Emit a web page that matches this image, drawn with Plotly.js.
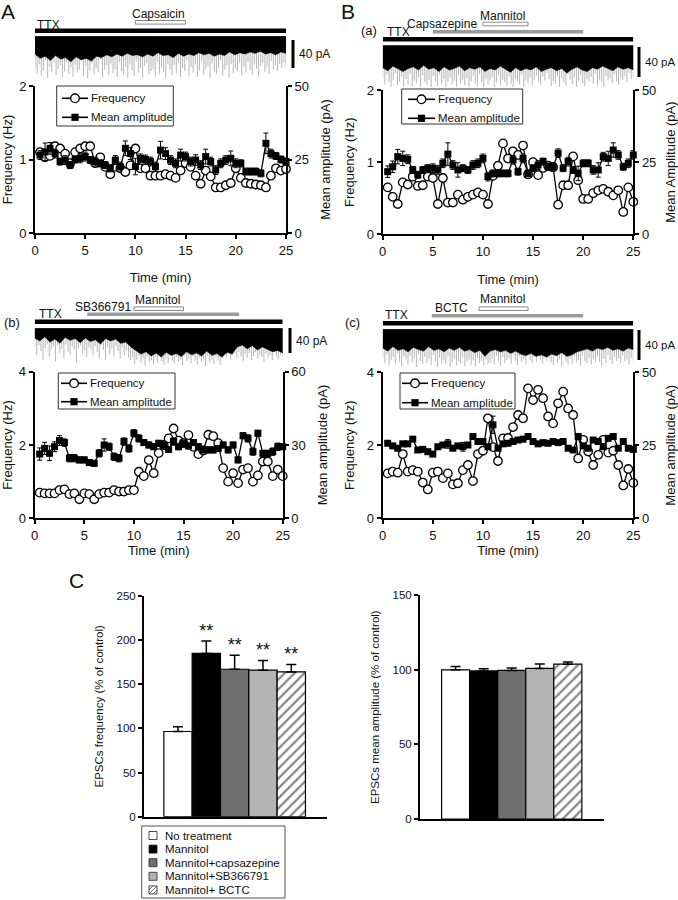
<!DOCTYPE html>
<html><head><meta charset="utf-8">
<script src="https://cdn.plot.ly/plotly-3.0.1.min.js"></script>
<style>html,body{margin:0;padding:0;background:#fff}#chart{width:678px;height:900px}</style>
</head><body><div id="chart"></div>
<script>
// ---------------- DATA ----------------
const time = [0.5,1,1.5,2,2.5,3,3.5,4,4.5,5,5.5,6,6.5,7,7.5,8,8.5,9,9.5,10,10.5,11,11.5,12,12.5,13,13.5,14,14.5,15,15.5,16,16.5,17,17.5,18,18.5,19,19.5,20,20.5,21,21.5,22,22.5,23,23.5,24,24.5,25];
const legendLabels = ['Frequency','Mean amplitude'];

// Panel A (capsaicin)
const freqA = [1.10,1.03,1.05,1.18,1.15,1.08,0.95,1.10,1.15,1.18,1.18,0.95,1.03,0.90,0.80,0.90,0.88,0.83,0.92,1.15,0.88,0.88,0.78,0.78,0.78,0.80,0.78,0.75,0.85,0.95,0.90,0.78,0.67,0.85,0.77,0.62,0.62,0.65,0.68,0.88,0.75,0.68,0.67,0.66,0.65,0.62,0.78,0.88,0.85,0.87];
const ampA = [26.5,27.6,28.8,27.0,24.3,24.8,23.1,25.0,25.4,26.0,24.8,24.3,23.7,23.1,22.0,24.8,22.6,28.8,27.0,22.6,25.4,25.0,24.3,22.6,28.2,27.0,24.8,23.7,26.5,26.0,24.3,24.8,23.1,26.0,24.3,21.4,23.7,24.8,25.4,23.7,23.7,20.9,20.9,20.9,20.3,30.5,27.0,26.2,25.0,24.3];
const ampErrA = [1.5,3.0,2.0,1.5,1.2,1.5,1.2,1.2,1.5,1.5,1.2,1.5,1.2,1.2,1.2,1.5,1.5,2.5,2.0,2.8,1.5,1.5,1.5,1.5,3.0,2.0,1.5,1.5,2.0,1.5,1.5,1.8,1.5,2.5,1.5,1.5,1.5,1.5,2.5,1.5,1.2,1.2,1.2,1.2,1.2,3.5,1.5,1.2,1.2,1.2];
const drugNamesA = ['TTX','Capsaicin'];
const drugStartA = [0,10];
const drugEndA = [25,15];

// Panel B(a) (capsazepine + mannitol)
const freqBa = [0.65,0.52,0.42,0.72,0.69,0.80,0.67,0.68,0.80,0.78,0.42,0.78,0.44,0.44,0.55,0.48,0.52,0.55,0.58,0.55,0.42,0.81,0.95,1.26,1.05,1.15,1.10,1.23,0.83,1.00,0.82,0.92,0.95,0.93,0.41,0.68,0.68,1.08,0.75,0.49,0.49,0.57,0.61,0.63,0.59,0.54,0.61,0.31,0.65,0.45];
const ampBa = [21.7,23.4,26.9,26.3,26.0,22.3,20.6,22.3,22.9,22.9,22.3,24.6,27.8,24.0,22.3,22.9,22.3,24.0,24.6,26.3,20.0,21.1,21.1,21.1,21.1,25.8,21.7,26.3,21.1,22.9,24.0,25.2,23.4,23.4,28.1,22.9,25.2,22.3,21.1,24.6,24.6,22.3,22.3,26.9,26.3,29.2,27.5,23.4,24.6,27.5];
const ampErrBa = [2.0,2.0,2.5,2.5,1.5,1.2,1.2,1.2,1.2,1.5,1.5,1.5,3.9,1.5,2.5,1.2,1.2,1.5,1.5,1.5,1.5,1.2,1.2,1.2,1.2,1.5,1.2,1.5,1.2,1.2,1.5,1.2,1.2,1.5,1.5,1.2,1.5,1.2,2.5,1.2,1.2,1.5,2.5,1.5,2.5,2.5,1.5,1.2,1.5,1.5];
const drugNamesBa = ['TTX','Capsazepine','Mannitol'];
const drugStartBa = [0,5,10];
const drugEndBa = [25,20,14.5];

// Panel B(b) (SB366791 + mannitol)
const freqBb = [0.70,0.68,0.68,0.68,0.77,0.79,0.66,0.68,0.52,0.68,0.66,0.52,0.66,0.70,0.70,0.77,0.73,0.73,0.77,0.77,1.27,1.15,1.59,1.23,1.78,2.00,2.18,2.45,2.12,2.05,2.27,1.95,1.75,1.85,2.28,2.24,2.05,1.37,1.00,1.23,0.96,1.33,1.37,1.00,1.17,1.55,1.55,1.15,1.33,1.15];
const ampBb = [26.3,28.6,26.6,29.3,31.8,31.0,24.6,24.6,23.9,23.9,22.8,22.5,26.6,30.0,29.3,25.2,24.6,31.4,28.6,34.8,32.7,31.0,30.0,29.3,30.7,30.0,28.2,31.4,29.3,30.7,29.6,31.0,29.3,28.0,28.0,28.0,28.6,30.0,28.0,30.0,23.9,33.8,32.7,27.3,34.8,26.6,26.6,27.3,29.3,29.3];
const ampErrBb = [2.5,2.5,3.0,2.0,2.0,1.5,1.5,1.5,1.2,1.2,1.2,1.2,1.5,2.5,1.5,1.5,1.5,1.5,1.5,1.5,1.5,1.2,1.2,1.2,1.2,1.2,1.2,1.5,1.2,1.2,1.2,1.2,1.2,1.2,1.2,1.2,1.2,1.2,1.2,1.2,1.2,1.2,1.5,1.5,1.2,1.2,1.2,1.5,1.5,1.2];
const drugNamesBb = ['TTX','SB366791','Mannitol'];
const drugStartBb = [0,5.3,10];
const drugEndBb = [25,20.6,15];

// Panel B(c) (BCTC + mannitol)
const freqBc = [1.23,1.28,1.25,1.76,1.28,1.32,1.28,0.98,0.79,1.25,1.28,1.10,1.23,0.93,0.96,1.32,1.46,1.02,1.76,1.85,2.74,1.95,1.57,2.19,2.20,2.50,2.83,2.74,3.56,3.24,3.52,3.29,2.79,2.60,3.15,3.47,3.01,2.83,1.64,2.15,1.83,1.46,1.74,2.15,1.80,1.85,1.46,0.90,1.35,0.97];
const ampBc = [25.7,24.8,24.0,25.5,25.5,27.1,23.4,23.6,22.8,22.0,24.5,25.1,25.5,24.0,24.8,24.5,25.1,28.0,26.3,26.3,24.5,32.0,24.0,25.5,25.7,26.3,26.8,27.1,28.0,26.3,25.5,25.9,25.7,26.3,25.9,26.3,24.0,23.4,28.0,24.8,24.0,26.8,26.3,24.5,27.4,28.0,24.0,26.3,24.0,23.6];
const ampErrBc = [0.8,0.8,0.8,0.8,0.8,0.8,0.8,0.8,0.8,0.8,0.8,0.8,1.5,0.8,0.8,1.5,0.8,0.8,0.8,0.8,0.8,3.0,0.8,0.8,0.8,0.8,0.8,0.8,0.8,0.8,0.8,0.8,0.8,0.8,0.8,0.8,0.8,0.8,0.8,0.8,0.8,0.8,0.8,0.8,0.8,0.8,0.8,0.8,0.8,0.8];
const drugNamesBc = ['TTX','BCTC','Mannitol'];
const drugStartBc = [0,4.9,9.6];
const drugEndBc = [25,20,14.5];

// Raw current recordings (pA below baseline): dense-band lower edge and event depths
const recEnvA = [24,30,27,33,26,31,29,35,28,32,30,34,27,29,25,28,24,27,23,26,25,28,24,27,22,26,25,29,23,27,24,26,22,25,23,27,24,26,21,25,22,24,21,23,20,24,22,25,21,23];
const recSpikeA = [44,51,38,55,47,33,58,42,49,36,54,45,40,57,48,35,52,43,56,39,50,46,34,55,41,58,47,37,53,44,49,32,57,46,40,54,38,51,45,56,36,48,53,42,58,39,47,55,34,50,44,57,41,37,53,48,45,56,35,52,43,49,58,38,46,54,40,51,36,57,44,48,33,55,42,50,39,56,47,35,53,45,41,58,37,49,52,43,34,55,46,40,57,38,51,44,48,36,54,42,50,35,47,53,39,45,56,41,37,49,43,52,34,46,40,48,38,44,36,42];
const recEnvBa = [28,32,26,30,33,29,27,31,25,30,28,33,27,31,29,26,32,28,30,27,33,29,31,26,30,34,28,32,29,31,27,33,30,28,32,29,35,30,27,31,33,28,30,26,29,32,27,30,28,31];
const recSpikeBa = [42,50,37,47,53,44,35,51,46,40,54,43,49,36,52,45,48,41,53,38,47,50,44,54,39,46,52,37,49,43,53,47,41,50,45,54,38,48,44,51,42,53,46,39,49,52,36,47,54,43,50,45,40,53,48,38,51,44,47,52,39,49,54,43,46,50,37,53,45,48,41,51,44,38,47,50,40,45,35,43,52,46,49,39,54,42,47,51,37,44,50,41,53,45,38,48,52,43,46,40,49,36,51,44,47,53,39,45,42,48,37,46,50,41,44,39,47,35,43,40];
const recEnvBb = [15,20,13,22,17,24,14,19,16,23,15,21,18,25,16,20,17,24,22,30,36,42,38,45,40,47,39,44,41,46,38,43,40,45,37,44,41,47,39,42,30,27,33,28,35,30,34,38,36,40];
const recSpikeBb = [30,44,27,37,51,32,26,46,34,29,54,28,40,33,49,26,38,43,30,35,57,32,28,41,36,47,31,34,44,29,38,49,27,35,52,30,42,33,46,28,37,50,31,44,36,48,52,47,58,51,44,57,49,61,46,55,52,59,48,56,43,54,60,49,57,45,53,58,47,55,51,61,44,54,49,57,46,53,59,48,55,50,62,45,56,51,58,47,53,60,49,40,47,38,51,44,41,49,38,46,54,42,48,40,52,45,39,50,43,47,55,41,48,44,52,38,46,50,42,47];
const recEnvBc = [24,28,22,27,25,29,23,26,28,22,27,25,29,24,27,23,28,26,30,27,35,28,26,29,27,31,28,32,34,31,35,33,36,32,34,30,35,33,29,27,25,28,24,26,23,27,25,28,24,26];
const recSpikeBc = [38,44,33,47,40,36,45,31,42,48,35,39,46,34,43,37,49,32,41,45,36,44,38,47,33,42,50,37,45,40,46,35,49,43,38,47,41,44,36,48,42,39,46,40,48,37,44,41,47,39,45,43,38,46,34,42,48,36,44,40,37,45,33,41,47,35,43,38,46,32,40,44,36,42,30,39,45,34,41,37,43,47,35,44,39,48,33,42,46,38,45,36,43,40,47,34,41,44,37,46,39,43,35,42,47,38,44,33,40,45,36,41,38,44,34,42,39,46,37,41];

// Panel C
const barCategories = ['No treatment','Mannitol','Mannitol+capsazepine','Mannitol+SB366791','Mannitol+ BCTC'];
const freqPct = [96.5,185,167,166,164];
const freqPctErr = [5.5,14,16,11,8.5];
const ampPct = [100,99.3,99.6,101,103.8];
const ampPctErr = [2.3,1.5,1.7,2.9,1.5];
const sigLabels = ['','**','**','**','**'];

// ---------------- LAYOUT HELPERS ----------------
const W = 678, H = 900;
const px = v => v / W, py = v => 1 - v / H;
const FONT = '"Liberation Sans", Arial, sans-serif';
const INK = '#111';
const axKey = id => id[0] + 'axis' + id.slice(1);

const baseAx = {showline:true, linecolor:'black', linewidth:2, ticks:'outside', ticklen:4, tickwidth:2,
  tickcolor:'black', showgrid:false, zeroline:false, fixedrange:true,
  tickfont:{family:FONT, size:13, color:INK}};

const panels = [
  {freq:freqA, amp:ampA, err:ampErrA, env:recEnvA, spk:recSpikeA, names:drugNamesA, st:drugStartA, en:drugEndA,
   kinds:['ttx','open'], barY:{ttx:30.7, open:22.3}, labels:[[35,25,'left'],[158,14.5,'center']],
   xd:[35,286], yd:[86,233], rec:[36,78], sb:28.3, sbX:293, sbY:[40,68], sbFont:12,
   fmax:2, fdt:1, amax:50, adt:25, ampTitle:'Mean amplitude (pA)', xStand:16,
   legBox:[56.7,86,173.3,126], legRows:[98.3,117.3], legLine:[62,88], legText:89},
  {freq:freqBa, amp:ampBa, err:ampErrBa, env:recEnvBa, spk:recSpikeBa, names:drugNamesBa, st:drugStartBa, en:drugEndBa,
   kinds:['ttx','gray','open'], barY:{ttx:39.3, gray:31.7, open:24}, labels:[[385,32.3,'left'],[478.5,24,'right'],[502.5,15.5,'center']],
   xd:[382.7,633.3], yd:[90,234.3], rec:[45,87], sb:30.7, sbX:639, sbY:[47,77], sbFont:11.5,
   fmax:2, fdt:1, amax:50, adt:25, ampTitle:'Mean Amplitude (pA)', xStand:17,
   legBox:[401.7,89,522.7,124], legRows:[99.3,118.3], legLine:[408,435], legText:436},
  {freq:freqBb, amp:ampBb, err:ampErrBb, env:recEnvBb, spk:recSpikeBb, names:drugNamesBb, st:drugStartBb, en:drugEndBb,
   kinds:['ttx','gray','open'], barY:{ttx:321.7, gray:314.3, open:308.7}, labels:[[37,313.7,'left'],[102.5,307,'center'],[157,300,'center']],
   xd:[34.7,282.7], yd:[371.7,518.3], rec:[328,367], sb:24, sbX:290, sbY:[328,353], sbFont:12,
   fmax:4, fdt:2, amax:60, adt:30, ampTitle:'Mean amplitude (pA)', xStand:2,
   legBox:[58.3,373,175,409], legRows:[383.3,401.7], legLine:[61,87], legText:88},
  {freq:freqBc, amp:ampBc, err:ampErrBc, env:recEnvBc, spk:recSpikeBc, names:drugNamesBc, st:drugStartBc, en:drugEndBc,
   kinds:['ttx','gray','open'], barY:{ttx:323.3, gray:315.7, open:308.7}, labels:[[383,314.7,'left'],[432.7,308,'left'],[502.5,299,'center']],
   xd:[382.7,633.3], yd:[372.3,518.3], rec:[329,367], sb:30, sbX:639, sbY:[330,360], sbFont:11.5,
   fmax:4, fdt:2, amax:50, adt:25, ampTitle:'Mean amplitude (pA)', xStand:2,
   legBox:[400,373,515,409], legRows:[383.3,402.7], legLine:[402,428], legText:429}
];

const xIds = ['x','x2','x3','x4'], fIds = ['y','y3','y5','y7'], aIds = ['y2','y4','y6','y8'], rIds = ['y11','y12','y13','y14'];

const data = [];
const layout = {width:W, height:H, margin:{l:0,r:0,t:0,b:0}, paper_bgcolor:'white', plot_bgcolor:'rgba(0,0,0,0)',
  font:{family:FONT, color:INK}, showlegend:false, bargap:0, barmode:'overlay', shapes:[], annotations:[]};

panels.forEach((p, i) => {
  const xa = xIds[i], fa = fIds[i], aa = aIds[i], ra = rIds[i];
  layout[axKey(xa)] = Object.assign({}, baseAx, {domain:[px(p.xd[0]), px(p.xd[1])], range:[0,25], tick0:0, dtick:5,
    anchor:fa, title:{text:'Time (min)', font:{family:FONT, size:13, color:INK}, standoff:p.xStand}});
  layout[axKey(fa)] = Object.assign({}, baseAx, {domain:[py(p.yd[1]), py(p.yd[0])], range:[0,p.fmax], tick0:0, dtick:p.fdt,
    anchor:xa, title:{text:'Frequency (Hz)', font:{family:FONT, size:13, color:INK}, standoff:9}});
  layout[axKey(aa)] = Object.assign({}, baseAx, {overlaying:fa, side:'right', anchor:xa, range:[0,p.amax], tick0:0, dtick:p.adt,
    title:{text:p.ampTitle, font:{family:FONT, size:13, color:INK}, standoff:13}});
  const recH = (p.rec[1] - p.rec[0]) * 40 / p.sb;
  layout[axKey(ra)] = {domain:[py(p.rec[1]), py(p.rec[0])], range:[-recH + 1.5, 1.5], visible:false, anchor:xa, fixedrange:true};

  // raw recording: event spikes (grey) + dense noise band (black)
  const sx = [], sy = [];
  p.spk.forEach((d, k) => { const x = k * 25 / (p.spk.length - 1); sx.push(x, x, null); sy.push(0, -d, null); });
  data.push({x:sx, y:sy, xaxis:xa, yaxis:ra, mode:'lines', line:{color:'#a3a3a3', width:0.8}, hoverinfo:'skip'});
  const bx = [0, 25], by = [1, 1];
  for (let k = p.env.length - 1; k >= 0; k--) { bx.push(k * 25 / (p.env.length - 1)); by.push(-p.env[k]); }
  data.push({x:bx, y:by, xaxis:xa, yaxis:ra, mode:'lines', fill:'toself', fillcolor:'#000', line:{color:'#000', width:0.6},
    hoverinfo:'skip'});

  // frequency & amplitude
  data.push({x:time, y:p.freq, xaxis:xa, yaxis:fa, name:legendLabels[0], mode:'lines+markers', cliponaxis:false,
    line:{color:'black', width:1.3}, marker:{symbol:'circle', size:8.5, color:'white', line:{color:'black', width:1.3}}});
  data.push({x:time, y:p.amp, xaxis:xa, yaxis:aa, name:legendLabels[1], mode:'lines+markers', cliponaxis:false,
    line:{color:'black', width:1.3}, marker:{symbol:'square', size:7, color:'black'},
    error_y:{type:'data', array:p.err, color:'black', thickness:1, width:2.5}});

  // hand-built legend box
  const lb = p.legBox;
  layout.shapes.push({type:'rect', xref:'paper', yref:'paper', x0:px(lb[0]), x1:px(lb[2]), y0:py(lb[3]), y1:py(lb[1]),
    fillcolor:'white', line:{color:'#333', width:1}, layer:'above'});
  const mx = (p.legLine[0] + p.legLine[1]) / 2;
  p.legRows.forEach((ry, k) => {
    layout.shapes.push({type:'line', xref:'paper', yref:'paper', x0:px(p.legLine[0]), x1:px(p.legLine[1]), y0:py(ry), y1:py(ry),
      line:{color:'black', width:1.6}, layer:'above'});
    if (k === 0) {
      layout.shapes.push({type:'circle', xref:'paper', yref:'paper', x0:px(mx - 4.3), x1:px(mx + 4.3), y0:py(ry + 4.3), y1:py(ry - 4.3),
        fillcolor:'white', line:{color:'black', width:1.3}, layer:'above'});
    } else {
      layout.shapes.push({type:'rect', xref:'paper', yref:'paper', x0:px(mx - 3.6), x1:px(mx + 3.6), y0:py(ry + 3.6), y1:py(ry - 3.6),
        fillcolor:'black', line:{width:0}, layer:'above'});
    }
    layout.annotations.push({text:legendLabels[k], xref:'paper', yref:'paper', x:px(p.legText), y:py(ry), xanchor:'left',
      yanchor:'middle', showarrow:false, font:{family:FONT, size:11.5, color:INK}});
  });

  // drug application bars and labels
  p.names.forEach((nm, k) => {
    const kind = p.kinds[k], yc = p.barY[kind];
    const style = kind === 'ttx' ? {fillcolor:'black', line:{width:0}, h:2.2}
                : kind === 'gray' ? {fillcolor:'#9b9b9b', line:{width:0}, h:1.8}
                : {fillcolor:'white', line:{color:'#8a8a8a', width:1}, h:1.8};
    layout.shapes.push({type:'rect', xref:xa, yref:'paper', x0:p.st[k], x1:p.en[k], y0:py(yc + style.h), y1:py(yc - style.h),
      fillcolor:style.fillcolor, line:style.line, layer:'above'});
    const lab = p.labels[k];
    layout.annotations.push({text:nm, xref:'paper', yref:'paper', x:px(lab[0]), y:py(lab[1]), xanchor:lab[2], yanchor:'middle',
      showarrow:false, font:{family:FONT, size:12, color:INK}});
  });

  // scale bar
  layout.shapes.push({type:'rect', xref:'paper', yref:'paper', x0:px(p.sbX - 1.5), x1:px(p.sbX + 1.5), y0:py(p.sbY[1]), y1:py(p.sbY[0]),
    fillcolor:'black', line:{width:0}});
  layout.annotations.push({text:'40 pA', xref:'paper', yref:'paper', x:px(p.sbX + 4), y:py((p.sbY[0] + p.sbY[1]) / 2),
    xanchor:'left', yanchor:'middle', showarrow:false, font:{family:FONT, size:p.sbFont, color:INK}});
});

// panel letters
[['A',8,11.5,21],['B',348,11.5,21],['C',76,580,21],['(a)',369,30.5,13],['(b)',12,322.5,13],['(c)',352.5,322.5,13]].forEach(l => {
  layout.annotations.push({text:l[0], xref:'paper', yref:'paper', x:px(l[1]), y:py(l[2]), xanchor:'center', yanchor:'middle',
    showarrow:false, font:{family:FONT, size:l[3], color:INK}});
});

// ---------------- PANEL C: bar charts ----------------
const barColors = ['#ffffff','#000000','#6f6f6f','#b4b4b4','#ffffff'];
const barHatch = ['','','','','/'];
const barCfg = [
  {vals:freqPct, errs:freqPctErr, xa:'x5', ya:'y9', xd:[144,326.7], yd:[596,816.7], yr:250, dt:50, xr:[-1.2,5.25],
   title:'EPSCs frequency (% of control)', stars:true},
  {vals:ampPct, errs:ampPctErr, xa:'x6', ya:'y10', xd:[420,604.3], yd:[595.3,819], yr:150, dt:50, xr:[-1.27,5.3],
   title:'EPSCs mean amplitude (% of control)', stars:false}
];
barCfg.forEach(b => {
  const solid = barHatch.map((h, k) => h === '' ? k : -1).filter(k => k >= 0);
  const hatched = barHatch.map((h, k) => h !== '' ? k : -1).filter(k => k >= 0);
  data.push({type:'bar', x:solid.map(k => barCategories[k]), y:solid.map(k => b.vals[k]), xaxis:b.xa, yaxis:b.ya, width:1,
    marker:{color:solid.map(k => barColors[k]), line:{color:'black', width:1.2}},
    error_y:{type:'data', symmetric:false, array:solid.map(k => b.errs[k]), arrayminus:solid.map(() => 0), color:'black', thickness:1.5, width:5}});
  data.push({type:'bar', x:hatched.map(k => barCategories[k]), y:hatched.map(k => b.vals[k]), xaxis:b.xa, yaxis:b.ya, width:1,
    marker:{color:'white', line:{color:'black', width:1.2}, pattern:{shape:'/', fgcolor:'black', bgcolor:'white', size:7, solidity:0.3, fillmode:'overlay'}},
    error_y:{type:'data', symmetric:false, array:hatched.map(k => b.errs[k]), arrayminus:hatched.map(() => 0), color:'black', thickness:1.5, width:5}});
  if (b.stars) {
    data.push({type:'scatter', mode:'text', x:barCategories, y:b.vals.map((v, k) => v + b.errs[k]), text:sigLabels,
      textposition:'top center', textfont:{family:FONT, size:18, color:INK}, xaxis:b.xa, yaxis:b.ya,
      cliponaxis:false, hoverinfo:'skip'});
  }
  layout[axKey(b.xa)] = {domain:[px(b.xd[0]), px(b.xd[1])], type:'category', categoryorder:'array', categoryarray:barCategories,
    range:b.xr, showline:true, linecolor:'black', linewidth:2, ticks:'', showticklabels:false, showgrid:false, zeroline:false,
    anchor:b.ya, fixedrange:true};
  layout[axKey(b.ya)] = Object.assign({}, baseAx, {domain:[py(b.yd[1]), py(b.yd[0])], range:[0, b.yr], tick0:0, dtick:b.dt,
    anchor:b.xa, tickfont:{family:FONT, size:11.5, color:INK},
    title:{text:b.title, font:{family:FONT, size:11.5, color:INK}, standoff:10}});
});

// hand-built legend for panel C
layout.shapes.push({type:'rect', xref:'paper', yref:'paper', x0:px(141.7), x1:px(285), y0:py(898), y1:py(826),
  fillcolor:'white', line:{color:'#555', width:1}});
barCategories.forEach((c, k) => {
  const yc = 835.5 + 13.6 * k;
  layout.shapes.push({type:'rect', xref:'paper', yref:'paper', x0:px(149), x1:px(157), y0:py(yc + 4), y1:py(yc - 4),
    fillcolor:barColors[k], line:{color:'#222', width:0.8}});
  if (barHatch[k] === '/') {
    [[149, yc + 4, 157, yc - 4], [149, yc, 153, yc - 4], [153, yc + 4, 157, yc]].forEach(s => {
      layout.shapes.push({type:'line', xref:'paper', yref:'paper', x0:px(s[0]), y0:py(s[1]), x1:px(s[2]), y1:py(s[3]),
        line:{color:'#444', width:0.8}});
    });
  }
  layout.annotations.push({text:c, xref:'paper', yref:'paper', x:px(163), y:py(yc), xanchor:'left', yanchor:'middle',
    showarrow:false, font:{family:FONT, size:11.5, color:INK}});
});

Plotly.newPlot('chart', data, layout, {staticPlot:true, displayModeBar:false});
</script></body></html>
